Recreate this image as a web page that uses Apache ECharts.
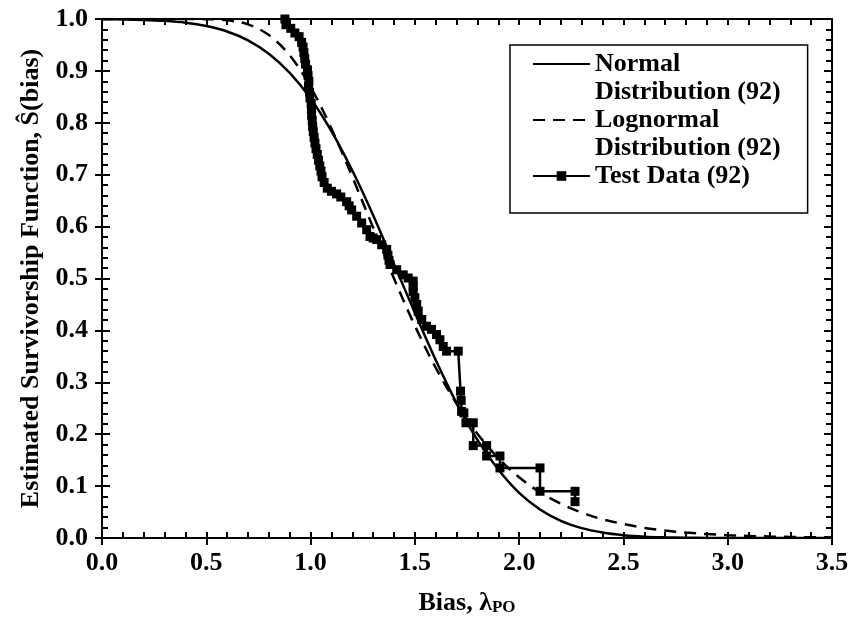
<!DOCTYPE html>
<html>
<head>
<meta charset="utf-8">
<script src="https://cdn.jsdelivr.net/npm/echarts@6/dist/echarts.min.js"></script>
<style>html,body{margin:0;padding:0;background:#fff}#c{width:855px;height:625px}</style>
</head>
<body>
<div id="c"></div>
<script>
// Curve sample positions (bias values)
const curveX = [0,0.1,0.2,0.3,0.4,0.5,0.6,0.7,0.8,0.9,1.0,1.1,1.2,1.3,1.4,1.5,1.6,1.7,1.8,1.9,2.0,2.1,2.2,2.3,2.4,2.5,2.6,2.7,2.8,2.9,3.0,3.1,3.2,3.3,3.4,3.5];
// Normal distribution survivorship
const normalS = [0.9997,0.9992,0.9983,0.9964,0.9929,0.9865,0.976,0.959,0.933,0.896,0.847,0.784,0.708,0.622,0.528,0.434,0.343,0.260,0.189,0.132,0.087,0.055,0.033,0.019,0.0105,0.0054,0.0026,0.0013,0.0006,0.0002,0.0001,0,0,0,0,0];
// Lognormal distribution survivorship
const lognormalS = [1,1,1,1,1,0.9997,0.9976,0.9896,0.969,0.930,0.869,0.789,0.696,0.598,0.500,0.409,0.328,0.259,0.201,0.154,0.117,0.088,0.066,0.049,0.036,0.027,0.0195,0.0143,0.0104,0.0076,0.0055,0.0040,0.0029,0.0021,0.0015,0.0011];
// Test data (step-wise estimated survivorship)
const testX = [0.877,0.882,0.905,0.925,0.945,0.957,0.964,0.968,0.972,0.976,0.985,0.988,0.992,0.990,0.995,0.997,1.003,1.004,1.005,1.008,1.010,1.013,1.017,1.021,1.026,1.032,1.038,1.044,1.050,1.055,1.065,1.080,1.100,1.125,1.145,1.173,1.185,1.197,1.221,1.245,1.269,1.285,1.300,1.317,1.341,1.365,1.371,1.376,1.381,1.413,1.444,1.468,1.492,1.492,1.492,1.500,1.509,1.516,1.533,1.556,1.580,1.604,1.620,1.636,1.652,1.708,1.719,1.722,1.724,1.735,1.745,1.780,1.780,1.844,1.844,1.908,1.908,2.100,2.100,2.268,2.268];
const testS = [1.000,0.989,0.982,0.973,0.966,0.955,0.946,0.935,0.924,0.913,0.902,0.891,0.880,0.870,0.859,0.848,0.837,0.826,0.815,0.804,0.793,0.783,0.772,0.761,0.750,0.739,0.728,0.717,0.707,0.696,0.685,0.674,0.668,0.663,0.657,0.648,0.640,0.632,0.620,0.607,0.594,0.581,0.578,0.575,0.565,0.556,0.545,0.535,0.527,0.517,0.507,0.501,0.495,0.485,0.475,0.463,0.450,0.437,0.421,0.408,0.402,0.392,0.382,0.369,0.360,0.360,0.283,0.265,0.244,0.241,0.222,0.222,0.178,0.178,0.158,0.158,0.135,0.135,0.090,0.090,0.070];
const seriesNames = ['Normal Distribution (92)','Lognormal Distribution (92)','Test Data (92)'];

const FONT = "'Liberation Serif','Times New Roman',serif";
const FS = 26;
const LH = 28;
const black = '#000';
const axisLine = {show:true, onZero:false, lineStyle:{color:black, width:2}};

const chart = echarts.init(document.getElementById('c'), null, {renderer:'canvas'});
const gridBox = {left:102, right:23, top:19, bottom:87};
const option = {
  animation:false,
  backgroundColor:'#fff',
  grid:[Object.assign({}, gridBox), Object.assign({}, gridBox)],
  xAxis:[
    {gridIndex:0, type:'value', position:'bottom', min:0, max:3.5, interval:0.5,
     axisLine:axisLine, axisTick:{show:true, inside:false, length:7, lineStyle:{color:black,width:2}},
     axisLabel:{fontFamily:FONT, fontSize:FS, fontWeight:'bold', color:black, margin:12, formatter:v=>v.toFixed(1)},
     splitLine:{show:false},
     name:'{a|Bias, λ}{b|PO}', nameLocation:'middle', nameGap:48,
     nameTextStyle:{rich:{
       a:{fontFamily:FONT, fontSize:FS, fontWeight:'bold', color:black, lineHeight:30, verticalAlign:'bottom'},
       b:{fontFamily:FONT, fontSize:17, fontWeight:'bold', color:black, lineHeight:12, verticalAlign:'bottom'}
     }}},
    {gridIndex:0, type:'value', position:'top', min:0, max:3.5, interval:0.1,
     axisLine:axisLine, axisTick:{show:true, inside:true, length:6, lineStyle:{color:black,width:2}},
     axisLabel:{show:false}, splitLine:{show:false}},
    {gridIndex:1, type:'value', position:'bottom', min:0, max:3.5, interval:0.1,
     axisLine:axisLine, axisTick:{show:true, inside:true, length:6, lineStyle:{color:black,width:2}},
     axisLabel:{show:false}, splitLine:{show:false}}
  ],
  yAxis:[
    {gridIndex:0, type:'value', position:'left', min:0, max:1, interval:0.1,
     axisLine:axisLine, axisTick:{show:true, inside:false, length:7, lineStyle:{color:black,width:2}},
     axisLabel:{fontFamily:FONT, fontSize:FS, fontWeight:'bold', color:black, margin:14, formatter:v=>v.toFixed(1)},
     splitLine:{show:false},
     name:'Estimated Survivorship Function, Ŝ(bias)', nameLocation:'middle', nameGap:58,
     nameTextStyle:{fontFamily:FONT, fontSize:FS, fontWeight:'bold', color:black}},
    {gridIndex:0, type:'value', position:'right', min:0, max:1, interval:0.1,
     axisLine:axisLine, axisTick:{show:true, inside:true, length:8, lineStyle:{color:black,width:2}},
     minorTick:{show:true, splitNumber:5, length:6, lineStyle:{color:black,width:2}},
     axisLabel:{show:false}, splitLine:{show:false}, minorSplitLine:{show:false}},
    {gridIndex:1, type:'value', position:'left', min:0, max:1, interval:0.1,
     axisLine:axisLine, axisTick:{show:true, inside:true, length:8, lineStyle:{color:black,width:2}},
     minorTick:{show:true, splitNumber:5, length:6, lineStyle:{color:black,width:2}},
     axisLabel:{show:false}, splitLine:{show:false}, minorSplitLine:{show:false}}
  ],
  legend:{
    orient:'vertical', left:510, top:45, padding:[-23,27,-5,22], itemGap:-LH,
    backgroundColor:'#fff', borderColor:black, borderWidth:1.5,
    itemWidth:57, itemHeight:12,
    textStyle:{fontFamily:FONT, fontSize:FS, fontWeight:'bold', color:black, lineHeight:LH},
    formatter:function(n){
      if (n.indexOf(' Distribution') >= 0) return ' \n' + n.replace(' Distribution', '\nDistribution');
      return ' \n' + n + '\n ';
    },
    data:[
      {name:seriesNames[0], itemStyle:{opacity:0}},
      {name:seriesNames[1], itemStyle:{opacity:0}},
      {name:seriesNames[2]}
    ]
  },
  series:[
    {name:seriesNames[0], type:'line', xAxisIndex:0, yAxisIndex:0,
     data:curveX.map((x,i)=>[x, normalS[i]]), symbol:'none', smooth:0.35,
     lineStyle:{color:black, width:2.5}, itemStyle:{color:black}},
    {name:seriesNames[1], type:'line', xAxisIndex:0, yAxisIndex:0,
     data:curveX.map((x,i)=>[x, lognormalS[i]]), symbol:'none', smooth:0.35,
     lineStyle:{color:black, width:2.5, type:[12,8]}, itemStyle:{color:black}},
    {name:seriesNames[2], type:'line', xAxisIndex:0, yAxisIndex:0,
     data:testX.map((x,i)=>[x, testS[i]]), symbol:'rect', symbolSize:9,
     lineStyle:{color:black, width:2.5}, itemStyle:{color:black}}
  ]
};
chart.setOption(option);
</script>
</body>
</html>
